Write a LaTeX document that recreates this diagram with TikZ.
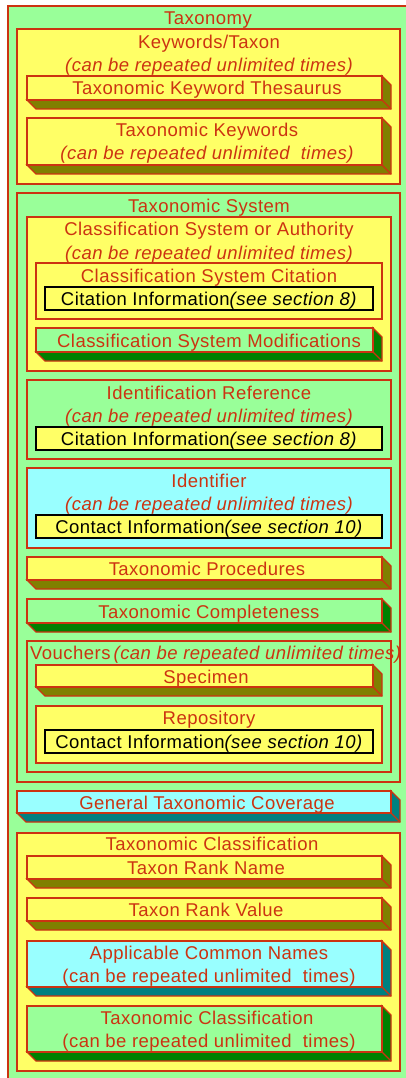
\documentclass[tikz,border=0pt]{standalone}
\usepackage{fontspec}
\setmainfont[LetterSpace=2.5]{Liberation Sans}
\usepackage{xcolor}
\definecolor{lgreen}{HTML}{99FF99}
\definecolor{lyellow}{HTML}{FFFF66}
\definecolor{lcyan}{HTML}{99FFFF}
\definecolor{brick}{HTML}{CC3311}
\definecolor{dolive}{HTML}{808000}
\definecolor{dgreen}{HTML}{008000}
\definecolor{dteal}{HTML}{008080}

% raised box: front colour, side colour, x1, y1, x2, y2
\newcommand{\slab}[6]{%
  \filldraw[edge,fill=#2] (#5,#4) -- (#5+9,#4+9) -- (#5+9,#6+9) -- (#3+9,#6+9) -- (#3,#6) -- (#5,#6) -- cycle;
  \draw[edge] (#5,#6) -- (#5+9,#6+9);
  \filldraw[edge,fill=#1] (#3,#4) rectangle (#5,#6);}

\begin{document}
\begin{tikzpicture}[x=1pt,y=-1pt]
  \tikzstyle{edge}=[draw=brick,line width=1.3pt]
  \tikzstyle{lbl}=[text=brick,inner sep=0pt,anchor=base,font=\fontsize{18.5}{22}\selectfont]
  \tikzstyle{rep}=[lbl,font=\fontsize{18.5}{22}\selectfont\itshape]
  \tikzstyle{cite}=[draw=black,line width=1.3pt,fill=lyellow]
  \useasboundingbox (0,0) rectangle (406,1078);
  \fill[white] (0,0) rectangle (406,1078);

  % Taxonomy
  \filldraw[edge,fill=lgreen] (8,6) rectangle (412,1084);
  \node[lbl] (taxonomy) at (208,25) {Taxonomy};

  % keywords
  \filldraw[edge,fill=lyellow] (17,29) rectangle (400,184);
  \node[lbl] (kwtaxon) at (209,49) {Keywords/Taxon};
  \node[rep] (kwrep) at (209,72) {(can be repeated unlimited times)};
  \slab{lyellow}{dolive}{27}{76}{382}{100}
  \node[lbl] (thes) at (207,95) {Taxonomic Keyword Thesaurus};
  \slab{lyellow}{dolive}{27}{118}{382}{165}
  \node[lbl] (kw) at (207,137) {Taxonomic Keywords};
  \node[rep] (kwrep2) at (207,160) {(can be repeated unlimited~ times)};

  % taxonomic system
  \filldraw[edge,fill=lgreen] (17,193) rectangle (400,782);
  \node[lbl] (sys) at (209,212) {Taxonomic System};
  \filldraw[edge,fill=lyellow] (27,217) rectangle (391,371);
  \node[lbl] (csa) at (209,235) {Classification System or Authority};
  \node[rep] (csarep) at (209,259) {(can be repeated unlimited times)};
  \filldraw[edge,fill=lyellow] (36,263) rectangle (382,319);
  \node[lbl] (csc) at (209,282) {Classification System Citation};
  \draw[cite] (45,287) rectangle (373,310);
  \node[lbl,text=black] (ci1) at (209,305) {Citation Information\textit{(see section 8)}};
  \slab{lgreen}{dgreen}{36}{328}{373}{352}
  \node[lbl] (csm) at (209,347) {Classification System Modifications};

  \filldraw[edge,fill=lgreen] (27,380) rectangle (391,459);
  \node[lbl] (idref) at (209,399) {Identification Reference};
  \node[rep] (idrefrep) at (209,422) {(can be repeated unlimited times)};
  \draw[cite] (36,427) rectangle (382,450);
  \node[lbl,text=black] (ci2) at (209,445) {Citation Information\textit{(see section 8)}};

  \filldraw[edge,fill=lcyan] (27,468) rectangle (391,548);
  \node[lbl] (ident) at (209,487) {Identifier};
  \node[rep] (identrep) at (209,510) {(can be repeated unlimited times)};
  \draw[cite] (36,515) rectangle (382,538);
  \node[lbl,text=black] (co1) at (209,533) {Contact Information\textit{(see section 10)}};

  \slab{lyellow}{dolive}{27}{557}{382}{580}
  \node[lbl] (proc) at (207,575) {Taxonomic Procedures};
  \slab{lgreen}{dgreen}{27}{599}{382}{623}
  \node[lbl] (compl) at (209,618) {Taxonomic Completeness};

  % vouchers
  \draw[edge] (27,641) rectangle (391,772);
  \node[lbl,anchor=base west] (vouch) at (30,659) {Vouchers\,\textit{(can be repeated unlimited times)}};
  \slab{lyellow}{dolive}{36}{665}{373}{687}
  \node[lbl] (spec) at (206,683) {Specimen};
  \filldraw[edge,fill=lyellow] (36,706) rectangle (382,763);
  \node[lbl] (repo) at (209,724) {Repository};
  \draw[cite] (45,730) rectangle (373,753);
  \node[lbl,text=black] (co2) at (209,748) {Contact Information\textit{(see section 10)}};

  % coverage
  \slab{lcyan}{dteal}{17}{791}{391}{813}
  \node[lbl] (cov) at (207,809) {General Taxonomic Coverage};

  % classification
  \filldraw[edge,fill=lyellow] (17,833) rectangle (400,1071);
  \node[lbl] (cls) at (212,850) {Taxonomic Classification};
  \slab{lyellow}{dolive}{27}{856}{382}{879}
  \node[lbl] (rname) at (206,874) {Taxon Rank Name};
  \slab{lyellow}{dolive}{27}{898}{382}{921}
  \node[lbl] (rval) at (206,916) {Taxon Rank Value};
  \slab{lcyan}{dteal}{27}{941}{382}{987}
  \node[lbl] (common) at (209,959) {Applicable Common Names};
  \node[lbl] (commonrep) at (209,982) {(can be repeated unlimited~ times)};
  \slab{lgreen}{dgreen}{27}{1006}{382}{1052}
  \node[lbl] (subcls) at (207,1024) {Taxonomic Classification};
  \node[lbl] (subclsrep) at (209,1047) {(can be repeated unlimited~ times)};
\end{tikzpicture}
\end{document}
